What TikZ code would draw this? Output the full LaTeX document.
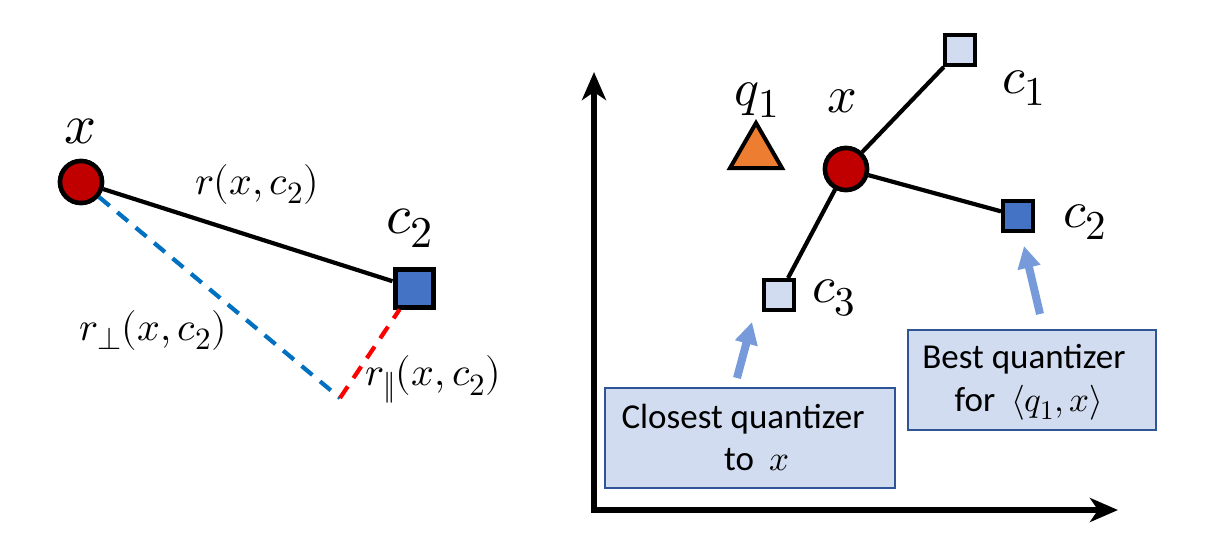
\documentclass[tikz,border=0pt]{standalone}
\usepackage{fontspec}
\usepackage{unicode-math}
\setmainfont{Carlito}
\DeclareMathSizes{56}{56}{44}{34}
\DeclareMathSizes{52}{52}{41}{32}
\DeclareMathSizes{40}{40}{31}{24}
\DeclareMathSizes{35}{35}{27}{21}
\usetikzlibrary{arrows.meta,shapes.geometric}
\definecolor{xred}{RGB}{192,0,0}
\definecolor{cblue}{RGB}{68,114,196}
\definecolor{clight}{RGB}{209,220,240}
\definecolor{dblue}{RGB}{0,112,192}
\definecolor{arrblue}{RGB}{118,154,218}
\definecolor{boxedge}{RGB}{47,85,151}
\definecolor{qorange}{RGB}{237,125,49}
\begin{document}
\begin{tikzpicture}[x=1pt,y=-1pt,
  ptnode/.style={circle,draw=black,line width=4.5pt,fill=xred,minimum size=42pt,inner sep=0pt},
  sqnode/.style={rectangle,draw=black,line width=5pt,minimum size=38pt,inner sep=0pt},
  sqsmall/.style={rectangle,draw=black,line width=4pt,minimum size=30pt,inner sep=0pt},
  biglbl/.style={font=\fontsize{56}{60}\selectfont,inner sep=0pt},
  midlbl/.style={font=\fontsize{52}{56}\selectfont,inner sep=0pt},
  rlbl/.style={font=\fontsize{40}{46}\selectfont,inner sep=0pt},
  conn/.style={line width=4.2pt},
  dashline/.style={line width=4.2pt,dash pattern=on 14pt off 10pt},
  qbox/.style={rectangle,draw=boxedge,line width=1.6pt,fill=clight,inner sep=0pt},
  boxtxt/.style={font=\fontsize{35}{42}\selectfont,inner sep=0pt,anchor=base},
  hint/.style={line width=8pt,arrblue,-{Triangle[length=22pt,width=22pt]}},
  axis/.style={line width=6pt,{Stealth[length=28pt,width=24pt,inset=8pt]}-{Stealth[length=28pt,width=24pt,inset=8pt]}}
]
\useasboundingbox (0,0) rectangle (1224,550);

% ---------- left panel ----------
\coordinate (k) at (340,398);
\node[sqnode,fill=cblue] (c2l) at (414,288) {};
\node[ptnode] (xl) at (81,182) {};
\draw[dashline,dblue] (xl) -- (k);
\draw[dashline,red] (k) -- (c2l);
\draw[conn] (xl) -- (c2l);
\node[ptnode] at (81,182) {};
\node[biglbl] (xlab) at (81,131) {$x$};
\node[biglbl] (c2lab) at (410,228) {$c_2$};
\node[rlbl] (rl) at (257,184) {$r(x,c_2)$};
\node[rlbl] (rperp) at (153,330) {$r_{\perp}(x,c_2)$};
\node[rlbl] (rpar) at (433,379) {$r_{\|}(x,c_2)$};

% ---------- right panel ----------
\coordinate (ytip) at (594,72);
\coordinate (orig) at (594,510);
\coordinate (xtip) at (1118,510);
\draw[axis] (ytip) -- (orig) -- (xtip);

\node[regular polygon,regular polygon sides=3,draw=black,line width=4pt,fill=qorange,minimum size=60pt,inner sep=0pt] (q1) at (756,153) {};
\node[midlbl] (q1lab) at (757,100) {$q_1$};
\node[midlbl] (xrlab) at (842,101) {$x$};

\node[sqsmall,fill=clight] (c1) at (960,50) {};
\node[sqsmall,fill=cblue] (c2) at (1018,216) {};
\node[sqsmall,fill=clight] (c3) at (779,295) {};
\node[ptnode] (xr) at (846,169) {};
\draw[conn] (xr) -- (c1);
\draw[conn] (xr) -- (c2);
\draw[conn] (xr) -- (c3);
\node[ptnode] at (846,169) {};

\node[midlbl] (c1lab) at (1024,88) {$c_1$};
\node[midlbl] (c2lab) at (1085,222) {$c_2$};
\node[midlbl] (c3lab) at (834,298) {$c_3$};

\node[qbox,minimum width=290pt,minimum height=100pt] (b1) at (750,438) {};
\node[boxtxt] at (743,428) {Closest quantizer};
\node[boxtxt] at (757,470) {to~~$x$};
\node[qbox,minimum width=248pt,minimum height=100pt] (b2) at (1032,380) {};
\node[boxtxt] at (1024,368) {Best quantizer};
\node[boxtxt] at (1029,411) {for~~$\langle q_1,x\rangle$};

\coordinate (a1s) at (737,378);
\coordinate (a1e) at (752,322);
\draw[hint] (a1s) -- (a1e);
\coordinate (a2s) at (1040,314);
\coordinate (a2e) at (1024,246);
\draw[hint] (a2s) -- (a2e);
\end{tikzpicture}
\end{document}
